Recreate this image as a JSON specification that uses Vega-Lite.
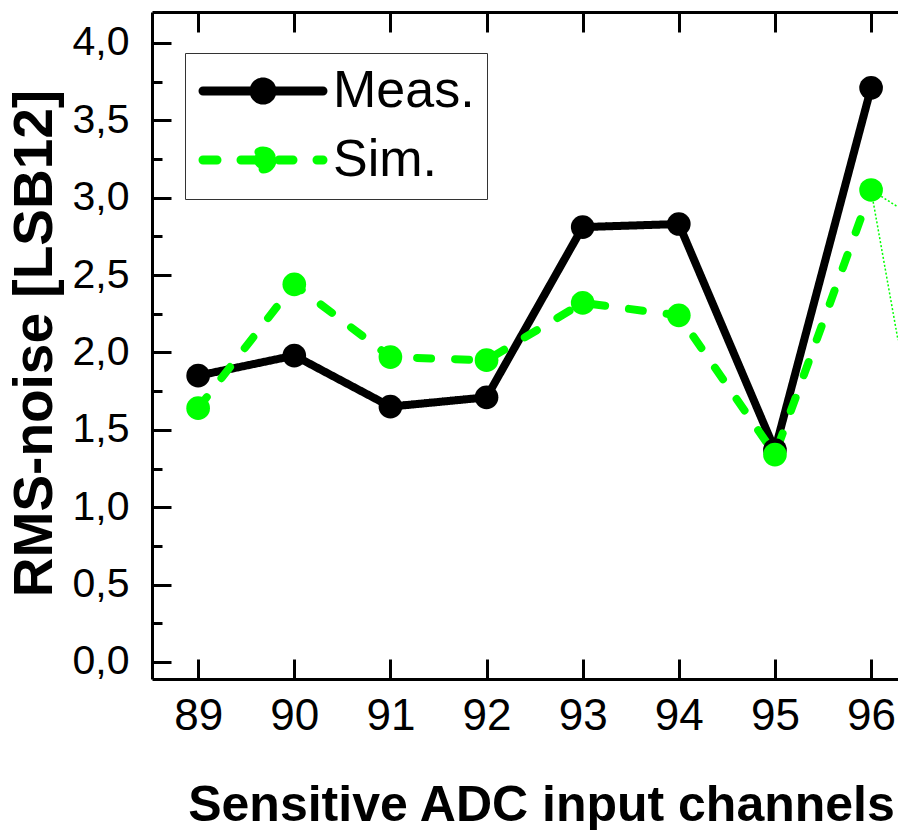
{
  "$schema": "https://vega.github.io/schema/vega-lite/v6.json",
  "width": 746,
  "height": 667,
  "autosize": {"type": "none"},
  "padding": {"left": 152, "top": 12, "right": 0, "bottom": 151},
  "background": "white",
  "config": {
    "locale": {"number": {"decimal": ",", "thousands": ".", "grouping": [3], "currency": ["", " €"]}},
    "view": {"stroke": null},
    "font": "Arial",
    "axis": {"grid": false, "domainColor": "black", "tickColor": "black", "domainWidth": 3, "tickWidth": 3, "labelColor": "black", "titleColor": "black", "labelFont": "Arial", "titleFont": "Arial"},
    "legend": {"labelFont": "Arial"}
  },
  "datasets": {
    "main": [
      {"ch": 89, "series": "Meas.", "v": 1.85},
      {"ch": 90, "series": "Meas.", "v": 1.98},
      {"ch": 91, "series": "Meas.", "v": 1.65},
      {"ch": 92, "series": "Meas.", "v": 1.71},
      {"ch": 93, "series": "Meas.", "v": 2.81},
      {"ch": 94, "series": "Meas.", "v": 2.83},
      {"ch": 95, "series": "Meas.", "v": 1.37},
      {"ch": 96, "series": "Meas.", "v": 3.71},
      {"ch": 89, "series": "Sim.", "v": 1.64},
      {"ch": 90, "series": "Sim.", "v": 2.44},
      {"ch": 91, "series": "Sim.", "v": 1.97},
      {"ch": 92, "series": "Sim.", "v": 1.95},
      {"ch": 93, "series": "Sim.", "v": 2.32},
      {"ch": 94, "series": "Sim.", "v": 2.24},
      {"ch": 95, "series": "Sim.", "v": 1.34},
      {"ch": 96, "series": "Sim.", "v": 3.05}
    ],
    "notes": [
      {"ch": 96.0, "v": 3.05, "g": "a"},
      {"ch": 96.28, "v": 2.94, "g": "a"},
      {"ch": 96.0, "v": 3.05, "g": "b"},
      {"ch": 96.28, "v": 2.08, "g": "b"}
    ]
  },
  "resolve": {"axis": {"x": "independent", "y": "independent"}},
  "layer": [
    {
      "data": {"name": "main"},
      "mark": {"type": "line", "strokeWidth": 8, "strokeCap": "round", "strokeJoin": "round", "clip": true},
      "encoding": {
        "x": {"field": "ch", "type": "quantitative",
          "scale": {"domain": [88.52, 96.28], "nice": false, "zero": false},
          "axis": {"orient": "bottom", "values": [89, 90, 91, 92, 93, 94, 95, 96], "format": "d", "tickSize": -20,
            "labelFontSize": 44, "labelPadding": 35, "labelFlush": false,
            "title": "Sensitive ADC input channels", "titleFontWeight": "bold", "titleFontSize": 50,
            "titleX": 389, "titleY": 141, "titleBaseline": "alphabetic", "titleAlign": "center"}},
        "y": {"field": "v", "type": "quantitative",
          "scale": {"domain": [-0.11, 4.2], "nice": false, "zero": false},
          "axis": {"orient": "left", "values": [0, 0.5, 1, 1.5, 2, 2.5, 3, 3.5, 4], "format": ".1f", "tickSize": -19,
            "labelFontSize": 41, "labelPadding": 42, "labelFlush": false,
            "title": "RMS-noise [LSB12]", "titleFontWeight": "bold", "titleFontSize": 55,
            "titleX": -101, "titleY": 331, "titleAngle": -90, "titleBaseline": "alphabetic", "titleAlign": "center"}},
        "color": {"field": "series", "type": "nominal",
          "scale": {"domain": ["Meas.", "Sim."], "range": ["#000000", "#00ff00"]},
          "legend": {"orient": "none", "legendX": 33, "legendY": 41, "title": null,
            "symbolType": "M-4,0L4,0M0.6,0A0.6,0.6 0 1,1 -0.6,0A0.6,0.6 0 1,1 0.6,0Z",
            "symbolSize": 900, "symbolStrokeWidth": 9,
            "labelFontSize": 52, "labelColor": "black",
            "strokeColor": "#333333", "fillColor": "white", "padding": 12, "rowPadding": 15,
            "symbolOffset": 40, "labelOffset": 44,
            "encode": {"symbols": {"update": {
              "fill": {"scale": "color", "field": "value"},
              "strokeDash": {"scale": "strokeDash", "field": "value"},
              "strokeCap": {"value": "round"}}}}}},
        "strokeDash": {"field": "series", "type": "nominal",
          "scale": {"domain": ["Meas.", "Sim."], "range": [[1, 0], [14, 24]]},
          "legend": null}
      }
    },
    {
      "data": {"name": "main"},
      "mark": {"type": "point", "filled": true, "opacity": 1, "size": 560, "shape": "circle", "clip": true},
      "encoding": {
        "x": {"field": "ch", "type": "quantitative", "axis": null},
        "y": {"field": "v", "type": "quantitative", "axis": null},
        "color": {"field": "series", "type": "nominal"}
      }
    },
    {
      "data": {"name": "notes"},
      "mark": {"type": "line", "strokeWidth": 1.5, "strokeDash": [2, 2], "color": "#00ff00", "clip": true},
      "encoding": {
        "x": {"field": "ch", "type": "quantitative",
          "axis": {"orient": "top", "values": [89, 90, 91, 92, 93, 94, 95, 96], "tickSize": -20, "labels": false, "title": null}},
        "y": {"field": "v", "type": "quantitative",
          "axis": {"orient": "left", "values": [0.25, 0.75, 1.25, 1.75, 2.25, 2.75, 3.25, 3.75], "tickSize": -10, "labels": false, "domain": false, "title": null}},
        "detail": {"field": "g", "type": "nominal"}
      }
    }
  ]
}
